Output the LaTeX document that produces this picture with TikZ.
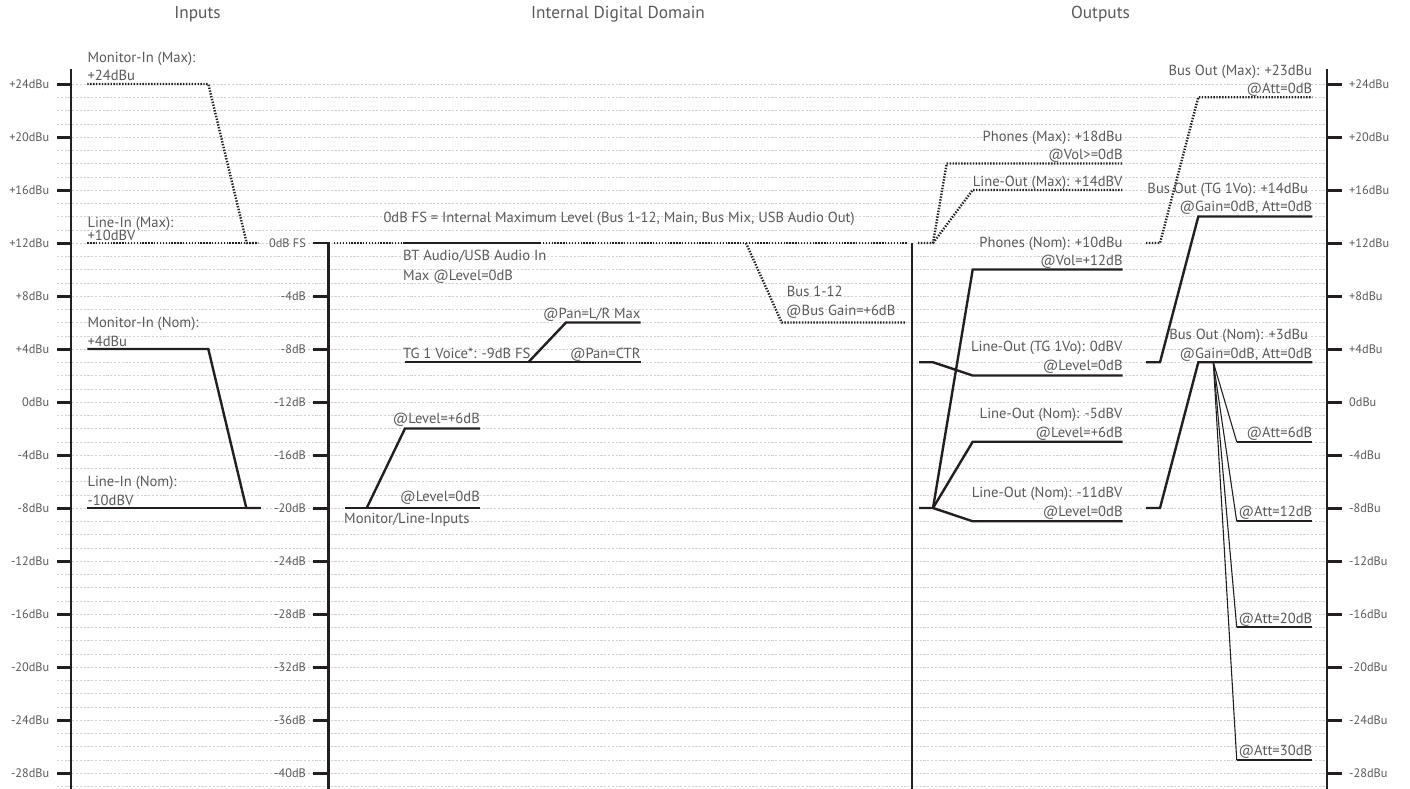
\documentclass[tikz,border=0pt]{standalone}
\usepackage{fontspec}
\setmainfont{PT Sans}
\definecolor{ink}{HTML}{231F20}
\definecolor{txt}{HTML}{58595B}
\definecolor{gridc}{HTML}{D2D2D2}
\tikzset{
  gridline/.style={draw=gridc, line width=0.5pt, dash pattern=on 2.2pt off 1.6pt},
  axisline/.style={draw=ink, line width=2.4pt},
  tickline/.style={draw=ink, line width=3pt},
  level/.style={draw=ink, line width=2.4pt},
  maxlevel/.style={draw=ink, line width=2.4pt, dash pattern=on 1.4pt off 1.5pt},
  attline/.style={draw=ink, line width=1.1pt},
  lbl/.style={text=txt, font=\fontsize{14.6}{16}\selectfont, inner sep=0pt},
  ticklbl/.style={text=txt, font=\fontsize{12.3}{14}\selectfont, inner sep=0pt},
  head/.style={text=txt, font=\fontsize{17.3}{19}\selectfont, inner sep=0pt, anchor=base},
}
\begin{document}
\begin{tikzpicture}[x=1pt,y=-1pt]
\useasboundingbox (0,0) rectangle (1410,788);
% grid, every 1 dB
\foreach \d in {-29,...,24} {
  \draw[gridline] (57,{402-13.25*\d}) -- (1326,{402-13.25*\d});
}
% headers
\node[head] (hIn)  at (197.5,18.5) {Inputs};
\node[head] (hInt) at (618,18.5) {Internal Digital Domain};
\node[head] (hOut) at (1100.5,18.5) {Outputs};
% left axis
\draw[axisline] (71,69) -- (71,790);
\foreach \d/\t in {24/+24dBu,20/+20dBu,16/+16dBu,12/+12dBu,8/+8dBu,4/+4dBu,0/0dBu,-4/-4dBu,-8/-8dBu,-12/-12dBu,-16/-16dBu,-20/-20dBu,-24/-24dBu,-28/-28dBu} {
  \draw[tickline] (57,{402-13.25*\d}) -- (71,{402-13.25*\d});
  \node[ticklbl, anchor=east] (L\d) at (49.5,{402-13.25*\d}) {\t};
}
% middle axis (dB FS)
\draw[axisline] (313,243) -- (328.3,243) -- (328.3,790);
\node[ticklbl, anchor=east] (M0) at (306,243) {0dB FS};
\foreach \d in {4,8,...,40} {
  \draw[tickline] (313,{243+13.25*\d}) -- (328.3,{243+13.25*\d});
  \node[ticklbl, anchor=east] (M\d) at (306,{243+13.25*\d}) {-\d dB};
}
% second internal axis
\draw[axisline] (911.7,243) -- (911.7,790);
% right axis
\draw[axisline] (1326.7,69) -- (1326.7,790);
\foreach \d/\t in {24/+24dBu,20/+20dBu,16/+16dBu,12/+12dBu,8/+8dBu,4/+4dBu,0/0dBu,-4/-4dBu,-8/-8dBu,-12/-12dBu,-16/-16dBu,-20/-20dBu,-24/-24dBu,-28/-28dBu} {
  \draw[tickline] (1326.7,{402-13.25*\d}) -- (1341.7,{402-13.25*\d});
  \node[ticklbl, anchor=west] (R\d) at (1349,{402-13.25*\d}) {\t};
}

% ---------------- Inputs ----------------
\draw[maxlevel] (87.3,84) -- (208.3,84) -- (246.7,243) -- (258.3,243);
\draw[maxlevel] (87.3,243) -- (258.3,243);
\draw[level] (87.3,349) -- (208.3,349) -- (246.3,508) -- (260.7,508);
\draw[level] (87.3,508) -- (260.7,508);
\node[lbl, anchor=base west] (mimax1) at (87.3,62) {Monitor-In (Max):};
\node[lbl, anchor=base west] (mimax2) at (87.3,80) {+24dBu};
\node[lbl, anchor=base west] (limax1) at (87.3,227) {Line-In (Max):};
\node[lbl, anchor=base west] (limax2) at (87.3,240.5) {+10dBV};
\node[lbl, anchor=base west] (minom1) at (87.3,327) {Monitor-In (Nom):};
\node[lbl, anchor=base west] (minom2) at (87.3,346) {+4dBu};
\node[lbl, anchor=base west] (linom1) at (87.3,486) {Line-In (Nom):};
\node[lbl, anchor=base west] (linom2) at (87.3,505) {-10dBV};

% ---------------- Internal ----------------
\draw[maxlevel] (334,243) -- (908,243);
\draw[level] (403.3,243) -- (541,243);
\draw[maxlevel] (746,243) -- (781.7,322.5) -- (905,322.5);
\draw[level] (405,362.25) -- (640.7,362.25);
\draw[level] (528.3,362.25) -- (566,322.5) -- (640.7,322.5);
\draw[level] (345,508) -- (480,508);
\draw[level] (366.7,508) -- (405,428.5) -- (480,428.5);
\node[lbl, anchor=base west] (fs) at (383.3,222.7) {0dB FS = Internal Maximum Level (Bus 1-12, Main, Bus Mix, USB Audio Out)};
\node[lbl, anchor=base west] (bt1) at (403,260) {BT Audio/USB Audio In};
\node[lbl, anchor=base west] (bt2) at (403,280) {Max @Level=0dB};
\node[lbl, anchor=base east] (panlr) at (640.7,318.3) {@Pan=L/R Max};
\node[lbl, anchor=base west] (tg) at (403,358.3) {TG 1 Voice*: -9dB FS};
\node[lbl, anchor=base east] (panc) at (640.7,358.3) {@Pan=CTR};
\node[lbl, anchor=base west] (bus1) at (786.7,296.7) {Bus 1-12};
\node[lbl, anchor=base west] (bus2) at (786,315) {@Bus Gain=+6dB};
\node[lbl, anchor=base east] (lv6) at (480,423.3) {@Level=+6dB};
\node[lbl, anchor=base east] (lv0) at (480,501.7) {@Level=0dB};
\node[lbl, anchor=base west] (mli) at (344,523.3) {Monitor/Line-Inputs};

% ---------------- Outputs ----------------
\draw[maxlevel] (918,243) -- (933,243) -- (946.7,163.5) -- (1122.7,163.5);
\draw[maxlevel] (933,243) -- (972.7,190) -- (1122.7,190);
\draw[level] (933,508) -- (972.7,269.5) -- (1122.7,269.5);
\draw[level] (919,362.25) -- (933,362.25) -- (972.7,375.5) -- (1122.7,375.5);
\draw[level] (933,508) -- (972.7,441.75) -- (1122.7,441.75);
\draw[level] (919,508) -- (933,508) -- (972.7,521.25) -- (1122.7,521.25);
\node[lbl, anchor=base east] (phmax1) at (1122.7,141) {Phones (Max): +18dBu};
\node[lbl, anchor=base east] (phmax2) at (1122.7,159) {@Vol>=0dB};
\node[lbl, anchor=base east] (lomax) at (1122.7,186) {Line-Out (Max): +14dBV};
\node[lbl, anchor=base east] (phnom1) at (1122.7,247.7) {Phones (Nom): +10dBu};
\node[lbl, anchor=base east] (phnom2) at (1122.7,265.7) {@Vol=+12dB};
\node[lbl, anchor=base east] (lotg1) at (1122.7,351) {Line-Out (TG 1Vo): 0dBV};
\node[lbl, anchor=base east] (lotg2) at (1122.7,370.5) {@Level=0dB};
\node[lbl, anchor=base east] (lon1) at (1122.7,418.3) {Line-Out (Nom): -5dBV};
\node[lbl, anchor=base east] (lon2) at (1122.7,437) {@Level=+6dB};
\node[lbl, anchor=base east] (lon3) at (1122.7,497.3) {Line-Out (Nom): -11dBV};
\node[lbl, anchor=base east] (lon4) at (1122.7,516.7) {@Level=0dB};

% Bus outs
\draw[maxlevel] (1146,243) -- (1160,243) -- (1198.3,97.25) -- (1312.3,97.25);
\draw[level] (1146,362.25) -- (1160,362.25) -- (1198.3,216.5) -- (1312.3,216.5);
\draw[level] (1146,508) -- (1160,508) -- (1198.3,362.25) -- (1312.3,362.25);
\foreach \yy in {441.75,521.25,627.25,759.75} {
  \draw[attline] (1213.3,362.25) -- (1236.7,\yy);
  \draw[level] (1236.7,\yy) -- (1312.3,\yy);
}
\node[lbl, anchor=base east] (bmax1) at (1312.3,75) {Bus Out (Max): +23dBu};
\node[lbl, anchor=base east] (bmax2) at (1312.3,93.3) {@Att=0dB};
\node[lbl, anchor=base east] (btg1) at (1308.3,193.3) {Bus Out (TG 1Vo): +14dBu};
\node[lbl, anchor=base east] (btg2) at (1312.3,211.7) {@Gain=0dB, Att=0dB};
\node[lbl, anchor=base east] (bnom1) at (1308.3,339) {Bus Out (Nom): +3dBu};
\node[lbl, anchor=base east] (bnom2) at (1312.3,358.3) {@Gain=0dB, Att=0dB};
\node[lbl, anchor=base east] (att6) at (1312.3,437) {@Att=6dB};
\node[lbl, anchor=base east] (att12) at (1312.3,516.5) {@Att=12dB};
\node[lbl, anchor=base east] (att20) at (1312.3,623.3) {@Att=20dB};
\node[lbl, anchor=base east] (att30) at (1312.3,755) {@Att=30dB};
\end{tikzpicture}
\end{document}
